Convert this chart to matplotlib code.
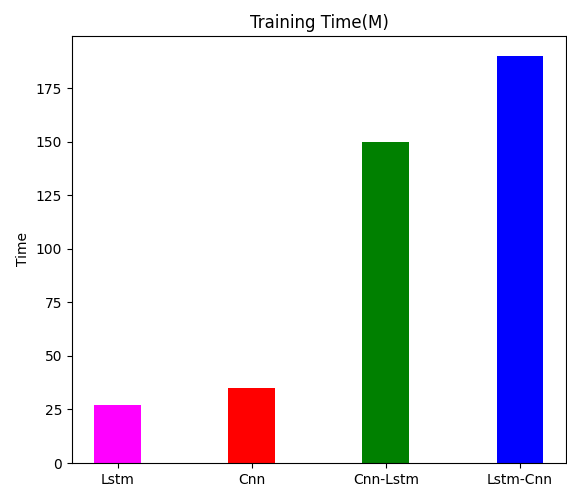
import matplotlib.pyplot as plt
import numpy as np

models = ["Lstm", "Cnn", "Cnn-Lstm", "Lstm-Cnn"]
train_time = [27, 35, 150, 190]
colors = ["magenta", "red", "green", "blue"]

fig = plt.figure(figsize=(5.67, 4.91), dpi=100)
ax = fig.add_axes([0.127, 0.057, 0.871, 0.870])
x = np.arange(len(models))
ax.bar(x, train_time, width=0.35, color=colors)
ax.set_xticks(x)
ax.set_xticklabels(models)
ax.set_ylabel("Time")
ax.set_title("Training Time(M)")
fig.savefig("out.png")
